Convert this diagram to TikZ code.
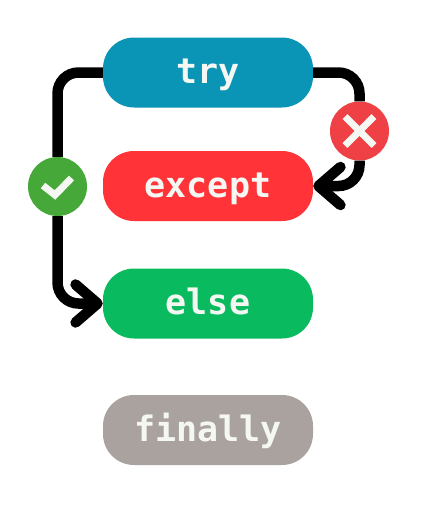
\documentclass[tikz,border=0pt]{standalone}
\usepackage{fontspec}
\setmonofont{DejaVu Sans Mono}
\usetikzlibrary{arrows.meta}
\definecolor{trycol}{HTML}{0A94B5}
\definecolor{exceptcol}{HTML}{FF3338}
\definecolor{elsecol}{HTML}{0ABA5E}
\definecolor{finallycol}{HTML}{A9A29F}
\definecolor{checkcol}{HTML}{46A838}
\definecolor{crosscol}{HTML}{EF4045}
\definecolor{markcol}{HTML}{F5F7F3}
\begin{document}
\begin{tikzpicture}[x=1pt, y=-1pt,
    pill/.style = {rectangle, rounded corners=31pt, minimum width=210pt,
      minimum height=70pt, inner sep=0pt, text height=26pt, text depth=4pt,
      text=markcol, font=\ttfamily\bfseries\fontsize{35}{36}\selectfont},
    badge/.style = {circle, minimum size=59pt, inner sep=0pt},
    flow/.style = {line width=10.5pt, rounded corners=21pt},
    arrowed/.style = {flow, -{Straight Barb[length=22pt, width=38pt, round]}},
    icon/.style = {line width=7pt, draw=markcol}]
    \useasboundingbox (0,0) rectangle (426,507);

    \node[pill, fill=trycol] (try) at (208,72.5) {try};
    \node[pill, fill=exceptcol] (except) at (208,186) {except};
    \node[pill, fill=elsecol] (else) at (208,303.5) {else};
    \node[pill, fill=finallycol] (finally) at (208,430) {finally};

    \node[badge, fill=checkcol] (check) at (57.5,186.5) {};
    \node[badge, fill=crosscol] (cross) at (359.5,131) {};

    \draw[flow] (try.west) -| (check);
    \draw[arrowed] (check) |- (else.west);
    \draw[flow] (try.east) -| (cross);
    \draw[arrowed] (cross) |- (except.east);

    % marks inside the badges
    \draw[icon] ([shift={(-14.5,-1)}]check.center) -- ([shift={(-2.5,8.5)}]check.center)
      -- ([shift={(14,-8.5)}]check.center);
    \draw[icon] ([shift={(-14.5,-14.5)}]cross.center) -- ([shift={(14.5,14.5)}]cross.center);
    \draw[icon] ([shift={(-14.5,14.5)}]cross.center) -- ([shift={(14.5,-14.5)}]cross.center);
\end{tikzpicture}
\end{document}
